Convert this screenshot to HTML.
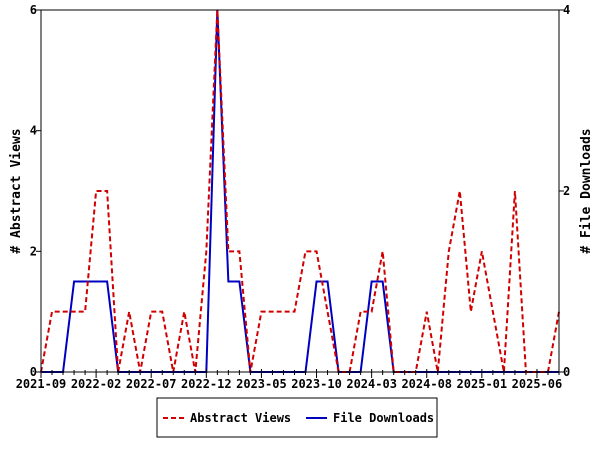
<!DOCTYPE html>
<html><head><meta charset="utf-8"><style>
body{margin:0;background:#fff}
svg{display:block;font-family:"DejaVu Sans Mono","Liberation Mono",monospace;font-weight:bold}
</style></head><body>
<svg id="chart" width="600" height="450">
<rect width="600" height="450" fill="#fff"/>
<g id="grid"></g>
<g id="series"></g>
<g id="axes"></g>
<text transform="translate(20,191) rotate(-90)" text-anchor="middle" font-size="13"># Abstract Views</text>
<text transform="translate(590,191) rotate(-90)" text-anchor="middle" font-size="13"># File Downloads</text>
<g>
<rect x="157" y="398" width="280" height="39" fill="#fff" stroke="#000" stroke-width="1"/>
<g>
<line x1="163" y1="418" x2="184" y2="418" stroke="#d00000" stroke-width="2" stroke-dasharray="5,3"/>
<text x="190" y="422" font-size="12">Abstract Views</text></g>
<g>
<line x1="306" y1="418" x2="327" y2="418" stroke="#0000c0" stroke-width="2"/>
<text x="333" y="422" font-size="12">File Downloads</text></g>
</g>
</svg>
<script>
const months = 48;
const startYear = 2021, startMonth = 9;
const views = [0,1,1,1,1,3,3,0,1,0,1,1,0,1,0,2,6,2,2,0,1,1,1,1,2,2,1,0,0,1,1,2,0,0,0,1,0,2,3,1,2,1,0,3,0,0,0,1];
const downloads = [0,0,0,1,1,1,1,0,0,0,0,0,0,0,0,0,4,1,1,0,0,0,0,0,0,1,1,0,0,0,1,1,0,0,0,0,0,0,0,0,0,0,0,0,0,0,0,0];
const leftTicks = [0,2,4,6];
const rightTicks = [0,2,4];
const L=41,R=559,T=10,B=372;
const ns="http://www.w3.org/2000/svg";
const x=i=>L+i*(R-L)/(months-1);
const yL=v=>B-v*(B-T)/6;
const yR=v=>B-v*(B-T)/4;
function mk(tag,attrs,parent){const e=document.createElementNS(ns,tag);for(const k in attrs)e.setAttribute(k,attrs[k]);parent.appendChild(e);return e;}
const axes=document.getElementById('axes'), series=document.getElementById('series');
let a=mk('line',{x1:L,y1:T,x2:R,y2:T,stroke:'#000'},axes);


a=mk('line',{x1:L,y1:T,x2:L,y2:B,stroke:'#000'},axes);


a=mk('line',{x1:R,y1:T,x2:R,y2:B,stroke:'#000'},axes);


a=mk('line',{x1:L,y1:B,x2:R,y2:B,stroke:'#000'},axes);


leftTicks.forEach(v=>{
  mk('line',{x1:L-5,y1:yL(v),x2:L,y2:yL(v),stroke:'#000'},axes);
  const t=mk('text',{x:L-4,y:yL(v)+4,'text-anchor':'end','font-size':'12'},axes);t.textContent=v;
  
  
});
rightTicks.forEach(v=>{
  mk('line',{x1:R,y1:yR(v),x2:R+5,y2:yR(v),stroke:'#000'},axes);
  const t=mk('text',{x:R+4,y:yR(v)+4,'font-size':'12'},axes);t.textContent=v;
  
  
});
for(let i=0;i<months;i++){
  const major=i%5===0;
  mk('line',{x1:x(i),y1:major?B-3:B-2,x2:x(i),y2:major?B+6:B+3,stroke:'#000'},axes);
  if(major){
    const m=startMonth-1+i, yr=startYear+Math.floor(m/12), mo=m%12+1;
    const t=mk('text',{x:x(i),y:B+16,'text-anchor':'middle','font-size':'12'},axes);
    t.textContent=yr+'-'+String(mo).padStart(2,'0');
    
    
  }
}
let p=mk('polyline',{points:downloads.map((v,i)=>x(i)+','+yR(v)).join(' '),fill:'none',stroke:'#0000c0','stroke-width':'2'},series);


p=mk('polyline',{points:views.map((v,i)=>x(i)+','+yL(v)).join(' '),fill:'none',stroke:'#d00000','stroke-width':'2','stroke-dasharray':'5,3'},series);


</script>
</body></html>
